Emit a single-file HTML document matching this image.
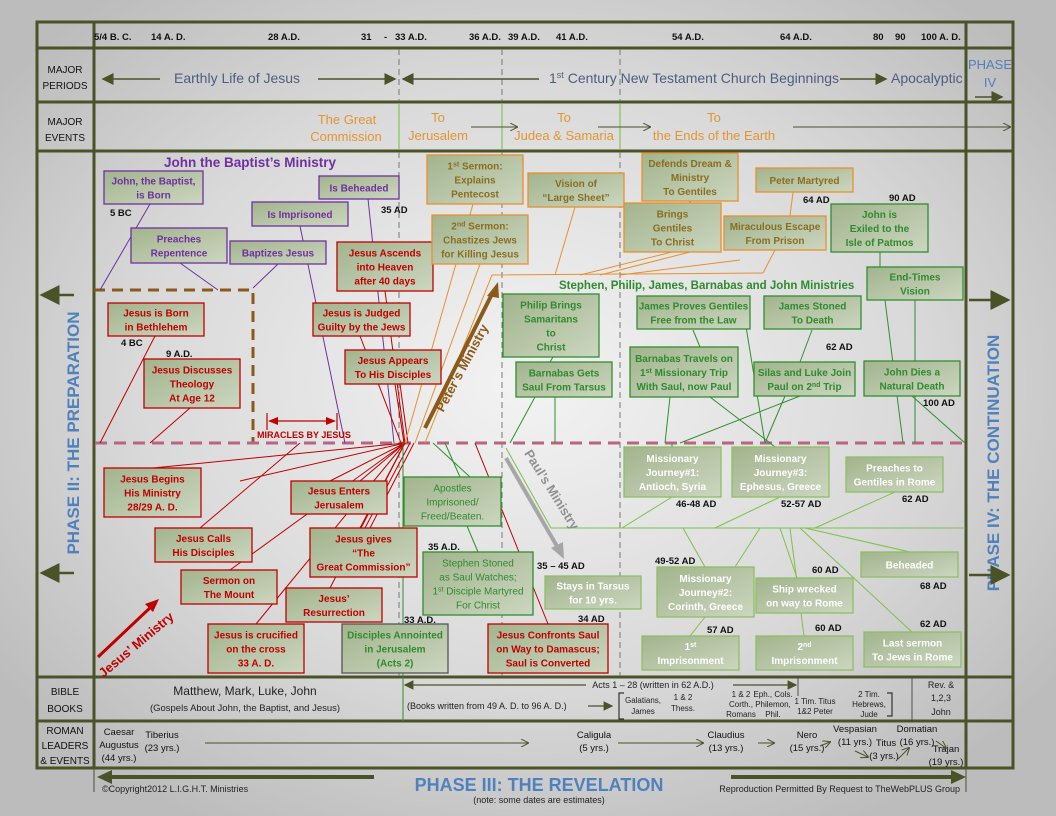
<!DOCTYPE html>
<html><head><meta charset="utf-8"><style>
html,body{margin:0;padding:0;width:1056px;height:816px;overflow:hidden;}
svg{display:block;font-family:"Liberation Sans",sans-serif;}
.bx{stroke-width:1.3;fill:url(#bf);}
.p rect{stroke:#7030a0}.p text{fill:#7030a0}
.r rect{stroke:#c00000}.r text{fill:#c00000}
.o rect{stroke:#e8902e}.o text{fill:#8c6d1f}
.g rect{stroke:#2f8f2f}.g text{fill:#2e8b2e}
.w rect{stroke:#8cc063}.w text{fill:#fff}
.t{font-size:10px;font-weight:bold;text-anchor:middle}
.n{font-size:10px;text-anchor:middle}
.lb{font-size:9.5px;font-weight:bold;fill:#111}
.hd{font-size:10px;fill:#111;text-anchor:middle}
.sm{font-size:8px;fill:#222;text-anchor:middle}
</style></head><body>
<svg width="1056" height="816" viewBox="0 0 1056 816">
<defs>
<radialGradient id="bg" cx="0.5" cy="0.47" r="0.62"><stop offset="0" stop-color="#f3f3f3"/><stop offset="0.6" stop-color="#d9d9d9"/><stop offset="1" stop-color="#bcbcbc"/></radialGradient>
<linearGradient id="bf" x1="0" y1="0" x2="1" y2="1"><stop offset="0" stop-color="#a2b48d"/><stop offset="1" stop-color="#ccd6c0"/></linearGradient>
<marker id="ah" markerWidth="8" markerHeight="8" refX="7" refY="4" orient="auto"><path d="M0,0 L8,4 L0,8 z" fill="#4a5228"/></marker>
<marker id="oa" markerWidth="8" markerHeight="8" refX="7" refY="4" orient="auto"><path d="M0,0 L8,4 L0,8" fill="none" stroke="#4a5228"/></marker>
</defs>
<rect width="1056" height="816" fill="url(#bg)"/>

<g stroke="#4a5228" fill="none">
<rect x="37" y="22" width="976" height="746" stroke-width="3"/>
<line x1="94" y1="22" x2="94" y2="768" stroke-width="3"/>
<line x1="966" y1="22" x2="966" y2="768" stroke-width="3"/>
<line x1="37" y1="48" x2="1013" y2="48" stroke-width="3"/>
<line x1="37" y1="102" x2="1013" y2="102" stroke-width="3"/>
<line x1="37" y1="151" x2="1013" y2="151" stroke-width="3"/>
<line x1="37" y1="677" x2="1013" y2="677" stroke-width="3"/>
<line x1="37" y1="721" x2="1013" y2="721" stroke-width="3"/>
<line x1="94" y1="768" x2="94" y2="792" stroke-width="1"/>
<line x1="966" y1="768" x2="966" y2="792" stroke-width="1"/>
</g>

<g class="lb" font-size="9px">
<text x="94" y="40">5/4 B. C.</text><text x="151" y="40">14 A. D.</text><text x="268" y="40">28 A.D.</text>
<text x="361" y="40">31</text><text x="384" y="40">-</text><text x="395" y="40">33 A.D.</text>
<text x="469" y="40">36 A.D.</text><text x="508" y="40">39 A.D.</text><text x="556" y="40">41 A.D.</text>
<text x="672" y="40">54 A.D.</text><text x="780" y="40">64 A.D.</text><text x="873" y="40">80</text><text x="895" y="40">90</text><text x="921" y="40">100 A. D.</text>
</g>

<g class="hd">
<text x="65" y="73">MAJOR</text><text x="65" y="89">PERIODS</text>
<text x="65" y="125">MAJOR</text><text x="65" y="141">EVENTS</text>
<text x="65" y="695">BIBLE</text><text x="65" y="712">BOOKS</text>
<text x="65" y="734">ROMAN</text><text x="65" y="749">LEADERS</text><text x="65" y="764">&amp; EVENTS</text>
</g>

<g stroke="#777" stroke-dasharray="6,4" stroke-width="1">
<line x1="399" y1="49" x2="399" y2="101"/><line x1="502" y1="49" x2="502" y2="101"/><line x1="620" y1="49" x2="620" y2="101"/>
<line x1="399" y1="152" x2="399" y2="676"/><line x1="502" y1="152" x2="502" y2="676"/><line x1="620" y1="152" x2="620" y2="676"/>
</g>
<g stroke="#6fbf3f" stroke-width="1"><line x1="399" y1="103" x2="399" y2="150"/><line x1="502" y1="103" x2="502" y2="150"/><line x1="620" y1="103" x2="620" y2="150"/></g>

<g fill="#4a5f80" font-size="14px">
<text x="174" y="83">Earthly Life of Jesus</text>
<text x="549" y="83">1<tspan font-size="9" baseline-shift="super">st</tspan> Century New Testament Church Beginnings</text>
<text x="891" y="83">Apocalyptic</text>
</g>
<g stroke="#4a5228" stroke-width="1.5">
<line x1="160" y1="79" x2="103" y2="79" marker-end="url(#ah)"/>
<line x1="318" y1="79" x2="395" y2="79" marker-end="url(#ah)"/>
<line x1="539" y1="79" x2="403" y2="79" marker-end="url(#ah)"/>
<line x1="840" y1="79" x2="886" y2="79" marker-end="url(#ah)"/>
<line x1="975" y1="97" x2="1002" y2="97" marker-end="url(#ah)"/>
</g>
<g fill="#4f81bd" font-size="13px" text-anchor="middle"><text x="990" y="69">PHASE</text><text x="990" y="87">IV</text></g>

<g fill="#e3962f" font-size="13px" text-anchor="middle">
<text x="347" y="124">The Great</text><text x="346" y="141">Commission</text>
<text x="438" y="122">To</text><text x="438" y="140">Jerusalem</text>
<text x="564" y="122">To</text><text x="564" y="140">Judea &amp; Samaria</text>
<text x="714" y="122">To</text><text x="714" y="140">the Ends of the Earth</text>
</g>
<g stroke="#4a5228" stroke-width="1">
<line x1="471" y1="127" x2="517" y2="127" marker-end="url(#oa)"/>
<line x1="598" y1="127" x2="650" y2="127" marker-end="url(#oa)"/>
<line x1="793" y1="127" x2="1010" y2="127" marker-end="url(#oa)"/>
</g>

<text transform="translate(79,433) rotate(-90)" fill="#4f81bd" font-size="17px" font-weight="bold" text-anchor="middle">PHASE II: THE PREPARATION</text>
<text transform="translate(999,463) rotate(-90)" fill="#4f81bd" font-size="17px" font-weight="bold" text-anchor="middle">PHASE IV:  THE CONTINUATION</text>
<g stroke="#4a5228" stroke-width="2.5">
<line x1="74" y1="295" x2="42" y2="295" marker-end="url(#ah)"/>
<line x1="74" y1="573" x2="42" y2="573" marker-end="url(#ah)"/>
<line x1="969" y1="300" x2="1008" y2="300" marker-end="url(#ah)"/>
<line x1="969" y1="575" x2="1008" y2="575" marker-end="url(#ah)"/>
</g>

<polyline points="94,290 253,290 253,443" fill="none" stroke="#8b5a1a" stroke-width="3" stroke-dasharray="11,7"/>
<line x1="95" y1="443" x2="965" y2="443" stroke="#b86484" stroke-width="3" stroke-dasharray="12,7"/>

<g stroke="#7030a0" stroke-width="1">
<line x1="150" y1="204" x2="100" y2="290"/><line x1="180" y1="263" x2="218" y2="290"/>
<line x1="278" y1="264" x2="253" y2="288"/><line x1="300" y1="226" x2="345" y2="443"/>
<line x1="368" y1="199" x2="394" y2="443"/>
</g>
<g stroke="#c00000" stroke-width="1">
<line x1="385" y1="291" x2="405" y2="443"/><line x1="360" y1="336" x2="401" y2="443"/>
<line x1="395" y1="384" x2="404" y2="443"/><line x1="400" y1="384" x2="408" y2="443"/>
<line x1="155" y1="336" x2="100" y2="443"/><line x1="190" y1="408" x2="150" y2="443"/>
<line x1="153" y1="468" x2="405" y2="443"/><line x1="240" y1="481" x2="405" y2="443"/>
<line x1="200" y1="528" x2="300" y2="443"/><line x1="230" y1="570" x2="405" y2="443"/>
<line x1="330" y1="481" x2="405" y2="443"/><line x1="360" y1="481" x2="405" y2="443"/>
<line x1="360" y1="528" x2="405" y2="443"/><line x1="365" y1="528" x2="410" y2="443"/><line x1="370" y1="528" x2="414" y2="443"/>
<line x1="330" y1="588" x2="405" y2="443"/><line x1="256" y1="624" x2="405" y2="443"/>
<line x1="548" y1="624" x2="475" y2="443"/>
</g>
<g stroke="#e8902e" stroke-width="1">
<line x1="473" y1="204" x2="405" y2="443"/><line x1="480" y1="264" x2="415" y2="443"/>
<polyline points="425,443 492,275 763,273" fill="none"/>
<line x1="575" y1="207" x2="555" y2="275"/><line x1="672" y1="252" x2="580" y2="275"/>
<line x1="690" y1="252" x2="600" y2="275"/><line x1="763" y1="273" x2="775" y2="250"/>
<line x1="740" y1="260" x2="620" y2="275"/><line x1="793" y1="192" x2="790" y2="216"/>
</g>
<g stroke="#2f8f2f" stroke-width="1">
<line x1="690" y1="201" x2="690" y2="203"/>
<line x1="433" y1="443" x2="470" y2="477"/><line x1="445" y1="443" x2="460" y2="477"/>
<line x1="467" y1="526" x2="478" y2="552"/><line x1="403" y1="443" x2="403" y2="721"/>
<line x1="553" y1="357" x2="550" y2="362"/><line x1="535" y1="397" x2="510" y2="443"/><line x1="555" y1="397" x2="555" y2="443"/>
<line x1="693" y1="330" x2="700" y2="347"/><line x1="670" y1="397" x2="665" y2="443"/><line x1="710" y1="397" x2="770" y2="443"/>
<line x1="812" y1="330" x2="800" y2="362"/><line x1="785" y1="396" x2="765" y2="443"/><line x1="800" y1="396" x2="680" y2="443"/>
<line x1="880" y1="252" x2="880" y2="267"/><line x1="885" y1="300" x2="903" y2="443"/><line x1="915" y1="300" x2="915" y2="443"/>
<line x1="912" y1="396" x2="965" y2="443"/><line x1="741" y1="296" x2="765" y2="443"/>
<line x1="672" y1="443" x2="672" y2="447"/><line x1="770" y1="443" x2="775" y2="447"/>
</g>
<g stroke="#7ec04a" stroke-width="1">
<line x1="551" y1="528" x2="965" y2="528"/><line x1="506" y1="448" x2="551" y2="528"/>
<line x1="672" y1="497" x2="622" y2="528"/><line x1="780" y1="497" x2="715" y2="528"/><line x1="895" y1="492" x2="815" y2="528"/>
<line x1="683" y1="528" x2="705" y2="567"/><line x1="760" y1="528" x2="735" y2="567"/>
<line x1="780" y1="528" x2="797" y2="578"/><line x1="790" y1="528" x2="804" y2="636"/>
<line x1="805" y1="528" x2="910" y2="552"/><line x1="800" y1="528" x2="912" y2="632"/>
<line x1="705" y1="617" x2="690" y2="636"/>
</g>

<line x1="425" y1="428" x2="493" y2="292" stroke="#8b5a1a" stroke-width="4"/>
<polygon points="498,282 487,296 499,298" fill="#8b5a1a"/>
<text transform="translate(466,370) rotate(-62)" fill="#8b5a1a" font-size="13px" font-weight="bold" text-anchor="middle">Peter’s Ministry</text>
<line x1="506" y1="458" x2="558" y2="548" stroke="#a6a6a6" stroke-width="4"/>
<polygon points="564,559 551,548 563,542" fill="#a6a6a6"/>
<text transform="translate(548,492) rotate(58)" fill="#909090" font-size="13px" font-weight="bold" text-anchor="middle">Paul’s Ministry</text>
<line x1="98" y1="657" x2="152" y2="606" stroke="#c00000" stroke-width="3"/>
<polygon points="159,599 145,604 153,612" fill="#c00000"/>
<text transform="translate(139,648) rotate(-40)" fill="#c00000" font-size="13px" font-weight="bold" text-anchor="middle">Jesus’ Ministry</text>

<g stroke="#c00000" stroke-width="1.2"><line x1="267" y1="413" x2="267" y2="430"/><line x1="337" y1="413" x2="337" y2="430"/><line x1="274" y1="421" x2="330" y2="421"/></g>
<polygon points="268,421 278,417 278,425" fill="#c00000"/><polygon points="336,421 326,417 326,425" fill="#c00000"/>
<text x="257" y="438" fill="#c00000" font-size="9px" font-weight="bold">MIRACLES BY JESUS</text>

<text x="164" y="167" fill="#7030a0" font-size="13.5px" font-weight="bold">John the Baptist’s Ministry</text>
<text x="559" y="289" fill="#2e8b2e" font-size="11.5px" font-weight="bold">Stephen, Philip, James, Barnabas and John Ministries</text>

<g class="lb">
<text x="110" y="216">5 BC</text><text x="381" y="213">35 AD</text><text x="121" y="346">4 BC</text><text x="166" y="357">9 A.D.</text>
<text x="404" y="623">33 A.D.</text><text x="578" y="622">34 AD</text><text x="428" y="550">35 A.D.</text><text x="537" y="569">35 – 45 AD</text>
<text x="803" y="203">64 AD</text><text x="889" y="201">90 AD</text><text x="826" y="350">62 AD</text><text x="923" y="406">100 AD</text>
<text x="676" y="507">46-48 AD</text><text x="781" y="507">52-57 AD</text><text x="902" y="502">62 AD</text>
<text x="655" y="564">49-52 AD</text><text x="812" y="573">60 AD</text><text x="920" y="589">68 AD</text>
<text x="707" y="633">57 AD</text><text x="815" y="631">60 AD</text><text x="920" y="627">62 AD</text>
</g>

<g class="p">
<rect class="bx" x="104" y="171" width="99" height="33"/><text class="t" x="153.5" y="184.5">John, the Baptist,</text><text class="t" x="153.5" y="198.5">is Born</text>
<rect class="bx" x="319" y="176" width="80" height="23"/><text class="t" x="359" y="191.5">Is Beheaded</text>
<rect class="bx" x="252" y="202" width="96" height="24"/><text class="t" x="300" y="218">Is Imprisoned</text>
<rect class="bx" x="131" y="228" width="96" height="35"/><text class="t" x="179" y="242.5">Preaches</text><text class="t" x="179" y="256.5">Repentence</text>
<rect class="bx" x="230" y="241" width="96" height="23"/><text class="t" x="278" y="256.5">Baptizes Jesus</text>
</g>

<g class="r">
<rect class="bx" x="337" y="242" width="96" height="49"/><text class="t" x="385" y="256.5">Jesus Ascends</text><text class="t" x="385" y="270.5">into Heaven</text><text class="t" x="385" y="284.5">after 40 days</text>
<rect class="bx" x="108" y="303" width="96" height="33"/><text class="t" x="156" y="316.5">Jesus is Born</text><text class="t" x="156" y="330.5">in Bethlehem</text>
<rect class="bx" x="313" y="303" width="97" height="33"/><text class="t" x="361.5" y="316.5">Jesus is Judged</text><text class="t" x="361.5" y="330.5">Guilty by the Jews</text>
<rect class="bx" x="345" y="350" width="96" height="34"/><text class="t" x="393" y="364">Jesus Appears</text><text class="t" x="393" y="378">To His Disciples</text>
<rect class="bx" x="144" y="359" width="96" height="49"/><text class="t" x="192" y="373.5">Jesus Discusses</text><text class="t" x="192" y="387.5">Theology</text><text class="t" x="192" y="401.5">At Age 12</text>
<rect class="bx" x="104" y="468" width="97" height="49"/><text class="t" x="152.5" y="482.5">Jesus Begins</text><text class="t" x="152.5" y="496.5">His Ministry</text><text class="t" x="152.5" y="510.5">28/29 A. D.</text>
<rect class="bx" x="291" y="481" width="96" height="33"/><text class="t" x="339" y="494.5">Jesus Enters</text><text class="t" x="339" y="508.5">Jerusalem</text>
<rect class="bx" x="155" y="528" width="97" height="34"/><text class="t" x="203.5" y="542">Jesus Calls</text><text class="t" x="203.5" y="556">His Disciples</text>
<rect class="bx" x="310" y="528" width="107" height="49"/><text class="t" x="363.5" y="542.5">Jesus gives</text><text class="t" x="363.5" y="556.5">“The</text><text class="t" x="363.5" y="570.5">Great Commission”</text>
<rect class="bx" x="181" y="570" width="96" height="34"/><text class="t" x="229" y="584">Sermon on</text><text class="t" x="229" y="598">The Mount</text>
<rect class="bx" x="286" y="588" width="96" height="34"/><text class="t" x="334" y="602">Jesus’</text><text class="t" x="334" y="616">Resurrection</text>
<rect class="bx" x="208" y="624" width="96" height="49"/><text class="t" x="256" y="638.5">Jesus is crucified</text><text class="t" x="256" y="652.5">on the cross</text><text class="t" x="256" y="666.5">33 A. D.</text>
<rect class="bx" x="488" y="624" width="120" height="49"/><text class="t" x="548" y="638.5">Jesus Confronts Saul</text><text class="t" x="548" y="652.5">on Way to Damascus;</text><text class="t" x="548" y="666.5">Saul is Converted</text>
</g>

<g class="o">
<rect class="bx" x="427" y="155" width="96" height="49"/><text class="t" x="475" y="169.5">1<tspan font-size="7" baseline-shift="super">st</tspan> Sermon:</text><text class="t" x="475" y="183.5">Explains</text><text class="t" x="475" y="197.5">Pentecost</text>
<rect class="bx" x="432" y="215" width="96" height="49"/><text class="t" x="480" y="229.5">2<tspan font-size="7" baseline-shift="super">nd</tspan> Sermon:</text><text class="t" x="480" y="243.5">Chastizes Jews</text><text class="t" x="480" y="257.5">for Killing Jesus</text>
<rect class="bx" x="528" y="173" width="96" height="34"/><text class="t" x="576" y="187">Vision of</text><text class="t" x="576" y="201">“Large Sheet”</text>
<rect class="bx" x="642" y="153" width="96" height="48"/><text class="t" x="690" y="167">Defends Dream &amp;</text><text class="t" x="690" y="181">Ministry</text><text class="t" x="690" y="195">To Gentiles</text>
<rect class="bx" x="624" y="203" width="97" height="49"/><text class="t" x="672.5" y="217.5">Brings</text><text class="t" x="672.5" y="231.5">Gentiles</text><text class="t" x="672.5" y="245.5">To Christ</text>
<rect class="bx" x="756" y="168" width="97" height="24"/><text class="t" x="804.5" y="184">Peter Martyred</text>
<rect class="bx" x="724" y="216" width="102" height="34"/><text class="t" x="775" y="230">Miraculous Escape</text><text class="t" x="775" y="244">From Prison</text>
</g>

<g class="g">
<rect class="bx" x="404" y="477" width="97" height="49"/><text class="n" x="452.5" y="491.5">Apostles</text><text class="n" x="452.5" y="505.5">Imprisoned/</text><text class="n" x="452.5" y="519.5">Freed/Beaten.</text>
<rect class="bx" x="423" y="552" width="110" height="63"/><text class="n" x="478" y="566.5">Stephen Stoned</text><text class="n" x="478" y="580.5">as Saul Watches;</text><text class="n" x="478" y="594.5">1<tspan font-size="7" baseline-shift="super">st</tspan> Disciple Martyred</text><text class="n" x="478" y="608.5">For Christ</text>
<rect class="bx" x="342" y="624" width="106" height="49" style="stroke:#555"/><text class="t" x="395" y="638.5">Disciples Annointed</text><text class="t" x="395" y="652.5">in Jerusalem</text><text class="t" x="395" y="666.5">(Acts 2)</text>
<rect class="bx" x="503" y="294" width="96" height="63"/><text class="t" x="551" y="308.5">Philip Brings</text><text class="t" x="551" y="322.5">Samaritans</text><text class="t" x="551" y="336.5">to</text><text class="t" x="551" y="350.5">Christ</text>
<rect class="bx" x="516" y="362" width="96" height="35"/><text class="t" x="564" y="376.5">Barnabas Gets</text><text class="t" x="564" y="390.5">Saul From Tarsus</text>
<rect class="bx" x="637" y="296" width="113" height="33"/><text class="t" x="693.5" y="309.5">James Proves Gentiles</text><text class="t" x="693.5" y="323.5">Free from the Law</text>
<rect class="bx" x="764" y="296" width="97" height="33"/><text class="t" x="812.5" y="309.5">James Stoned</text><text class="t" x="812.5" y="323.5">To Death</text>
<rect class="bx" x="630" y="347" width="108" height="50"/><text class="t" x="684" y="362">Barnabas Travels on</text><text class="t" x="684" y="376">1<tspan font-size="7" baseline-shift="super">st</tspan> Missionary Trip</text><text class="t" x="684" y="390">With Saul, now Paul</text>
<rect class="bx" x="754" y="362" width="101" height="34"/><text class="t" x="804.5" y="376">Silas and Luke Join</text><text class="t" x="804.5" y="390">Paul on 2<tspan font-size="7" baseline-shift="super">nd</tspan> Trip</text>
<rect class="bx" x="831" y="204" width="97" height="48"/><text class="t" x="879.5" y="218">John is</text><text class="t" x="879.5" y="232">Exiled to the</text><text class="t" x="879.5" y="246">Isle of Patmos</text>
<rect class="bx" x="867" y="267" width="96" height="33"/><text class="t" x="915" y="280.5">End-Times</text><text class="t" x="915" y="294.5">Vision</text>
<rect class="bx" x="864" y="361" width="96" height="35"/><text class="t" x="912" y="375.5">John Dies a</text><text class="t" x="912" y="389.5">Natural Death</text>
</g>

<g class="w">
<rect class="bx" x="545" y="576" width="96" height="33"/><text class="t" x="593" y="589.5">Stays in Tarsus</text><text class="t" x="593" y="603.5">for 10 yrs.</text>
<rect class="bx" x="624" y="447" width="97" height="50"/><text class="t" x="672.5" y="462">Missionary</text><text class="t" x="672.5" y="476">Journey#1:</text><text class="t" x="672.5" y="490">Antioch, Syria</text>
<rect class="bx" x="732" y="447" width="97" height="50"/><text class="t" x="780.5" y="462">Missionary</text><text class="t" x="780.5" y="476">Journey#3:</text><text class="t" x="780.5" y="490">Ephesus, Greece</text>
<rect class="bx" x="846" y="457" width="97" height="35"/><text class="t" x="894.5" y="471.5">Preaches to</text><text class="t" x="894.5" y="485.5">Gentiles in Rome</text>
<rect class="bx" x="657" y="567" width="97" height="50"/><text class="t" x="705.5" y="582">Missionary</text><text class="t" x="705.5" y="596">Journey#2:</text><text class="t" x="705.5" y="610">Corinth, Greece</text>
<rect class="bx" x="756" y="578" width="97" height="35"/><text class="t" x="804.5" y="592.5">Ship wrecked</text><text class="t" x="804.5" y="606.5">on way to Rome</text>
<rect class="bx" x="861" y="552" width="97" height="25"/><text class="t" x="909.5" y="568.5">Beheaded</text>
<rect class="bx" x="642" y="636" width="97" height="34"/><text class="t" x="690.5" y="650">1<tspan font-size="7" baseline-shift="super">st</tspan></text><text class="t" x="690.5" y="664">Imprisonment</text>
<rect class="bx" x="756" y="636" width="97" height="34"/><text class="t" x="804.5" y="650">2<tspan font-size="7" baseline-shift="super">nd</tspan></text><text class="t" x="804.5" y="664">Imprisonment</text>
<rect class="bx" x="864" y="632" width="97" height="35"/><text class="t" x="912.5" y="646.5">Last sermon</text><text class="t" x="912.5" y="660.5">To Jews in Rome</text>
</g>

<text x="245" y="695" font-size="12px" fill="#222" text-anchor="middle">Matthew, Mark, Luke, John</text>
<text x="245" y="711" font-size="9.5px" fill="#222" text-anchor="middle">(Gospels About John, the Baptist, and Jesus)</text>
<g stroke="#4a5228" stroke-width="1.2">
<line x1="586" y1="685" x2="405" y2="685" marker-end="url(#ah)"/>
<line x1="733" y1="685" x2="796" y2="685" marker-end="url(#ah)"/>
<line x1="588" y1="706" x2="612" y2="706" marker-end="url(#ah)"/>
<polyline points="624,693 619,693 619,719 624,719" fill="none" stroke="#333"/>
<polyline points="887,693 892,693 892,716 887,716" fill="none" stroke="#333"/>
<line x1="798" y1="678" x2="798" y2="696" stroke="#333" stroke-width="0.8"/>
<line x1="912" y1="678" x2="912" y2="721" stroke="#333" stroke-width="0.8"/>
</g>
<text x="653" y="688" font-size="9px" fill="#222" text-anchor="middle">Acts 1 – 28 (written in 62 A.D.)</text>
<text x="407" y="709" font-size="9px" fill="#222">(Books written from 49 A. D. to 96 A. D.)</text>
<g class="sm" font-size="6.5px">
<text x="643" y="703">Galatians,</text><text x="643" y="714">James</text>
<text x="683" y="700">1 &amp; 2</text><text x="683" y="711">Thess.</text>
<text x="741" y="697">1 &amp; 2</text><text x="741" y="707">Corth.,</text><text x="741" y="717">Romans</text>
<text x="773" y="697">Eph., Cols.</text><text x="773" y="707">Philemon,</text><text x="773" y="717">Phil.</text>
<text x="815" y="704">1 Tim. Titus</text><text x="815" y="714">1&amp;2 Peter</text>
<text x="869" y="697">2 Tim.</text><text x="869" y="707">Hebrews,</text><text x="869" y="717">Jude</text>
</g>
<g font-size="9px" fill="#222" text-anchor="middle"><text x="941" y="688">Rev. &amp;</text><text x="941" y="701">1,2,3</text><text x="941" y="715">John</text></g>

<g font-size="9.5px" fill="#111" text-anchor="middle">
<text x="119" y="735">Caesar</text><text x="119" y="748">Augustus</text><text x="119" y="761">(44 yrs.)</text>
<text x="162" y="738">Tiberius</text><text x="162" y="751">(23 yrs.)</text>
<text x="594" y="738">Caligula</text><text x="594" y="751">(5 yrs.)</text>
<text x="726" y="738">Claudius</text><text x="726" y="751">(13 yrs.)</text>
<text x="807" y="738">Nero</text><text x="807" y="751">(15 yrs.)</text>
<text x="855" y="732">Vespasian</text><text x="855" y="745">(11 yrs.)</text>
<text x="886" y="746">Titus</text><text x="884" y="759">(3 yrs.)</text>
<text x="917" y="732">Domatian</text><text x="917" y="745">(16 yrs.)</text>
<text x="946" y="752">Trajan</text><text x="946" y="765">(19 yrs.)</text>
</g>
<g stroke="#4a5228" stroke-width="1">
<line x1="205" y1="743" x2="528" y2="743" marker-end="url(#oa)"/>
<line x1="618" y1="743" x2="703" y2="743" marker-end="url(#oa)"/>
<line x1="758" y1="743" x2="774" y2="743" marker-end="url(#oa)"/>
<line x1="820" y1="746" x2="830" y2="742" marker-end="url(#oa)"/>
<line x1="855" y1="751" x2="868" y2="757" marker-end="url(#oa)"/>
<line x1="898" y1="759" x2="909" y2="748" marker-end="url(#oa)"/>
<line x1="936" y1="741" x2="946" y2="748" marker-end="url(#oa)"/>
</g>

<g stroke="#4a5228" stroke-width="4">
<line x1="374" y1="777" x2="110" y2="777"/><line x1="731" y1="777" x2="954" y2="777"/>
</g>
<polygon points="97,777 112,770 112,784" fill="#4a5228"/><polygon points="966,777 951,770 951,784" fill="#4a5228"/>
<text x="539" y="791" fill="#4f81bd" font-size="18px" font-weight="bold" text-anchor="middle">PHASE III:  THE REVELATION</text>
<text x="539" y="803" fill="#222" font-size="9px" text-anchor="middle">(note: some dates are estimates)</text>
<text x="102" y="792" fill="#222" font-size="9px">©Copyright2012 L.I.G.H.T. Ministries</text>
<text x="960" y="792" fill="#222" font-size="9px" text-anchor="end">Reproduction Permitted By Request to TheWebPLUS Group</text>
</svg>
</body></html>
